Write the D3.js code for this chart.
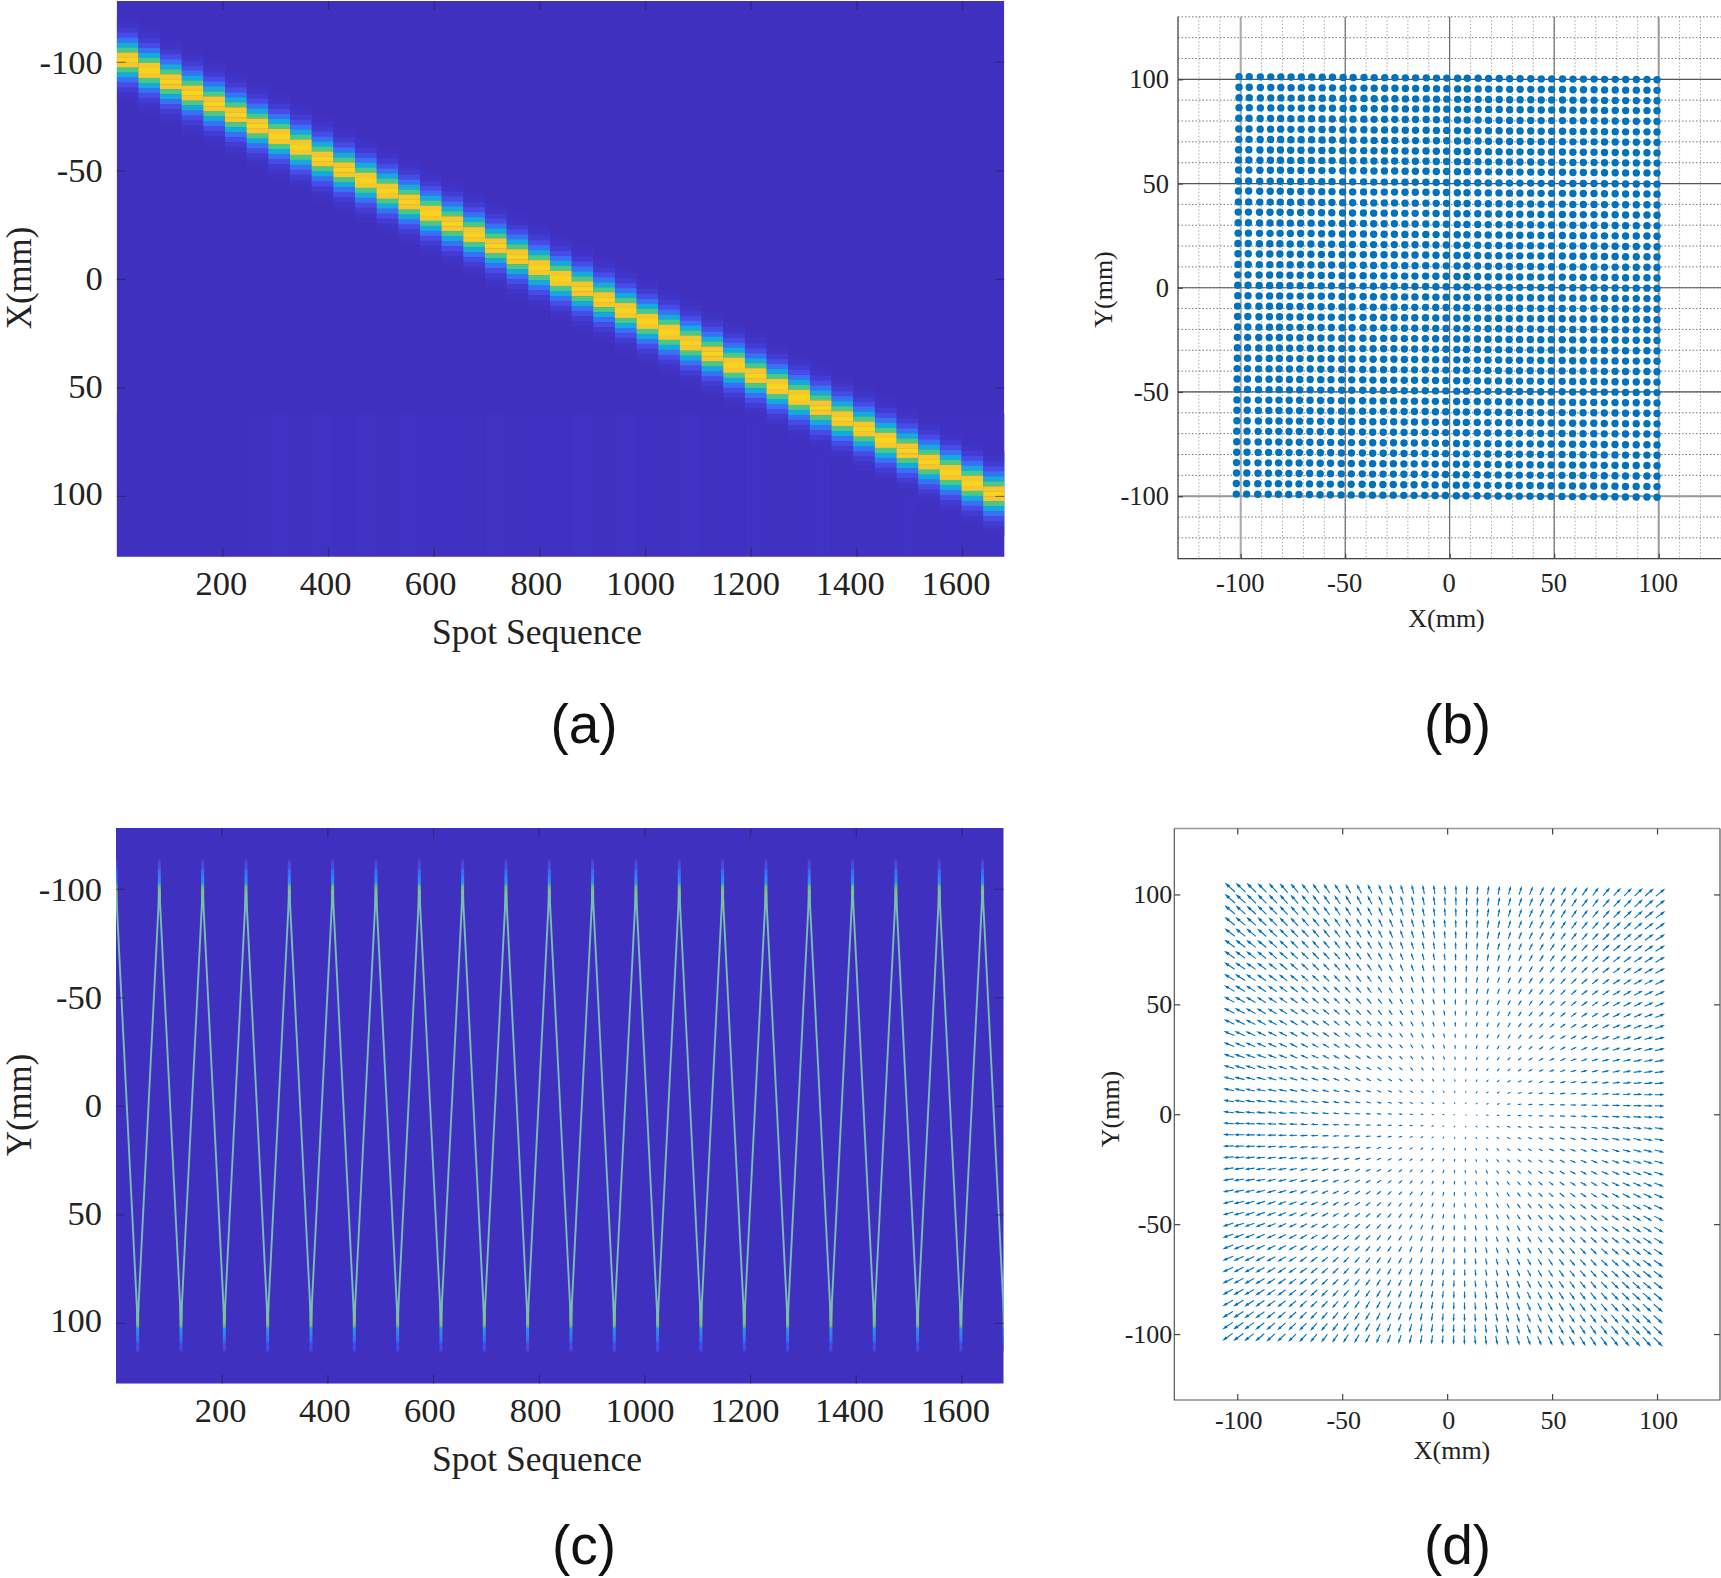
<!doctype html>
<html>
<head>
<meta charset="utf-8">
<title>Spot sequence maps and spot distortion</title>
<script src="https://d3js.org/d3.v7.min.js"></script>
<style>
	body { margin: 0; background: white; }
	svg { display: block; }
	text { font-family: "Liberation Serif", serif; fill: #222; }
	.panel-tag { font-family: "Liberation Sans", sans-serif; font-size: 55px; fill: #111; }
</style>
</head>
<body>
<div id="plot"></div>
<script>
// --- tick labels
const spotTicks = [200, 400, 600, 800, 1000, 1200, 1400, 1600];
const spotLabelShift = [-1.5, -3, -3.7, -3.5, -5, -5.6, -6.7, -6.5];
const mmTicks = [-100, -50, 0, 50, 100];
const mmLabelShift = [1, 0, -0.5, -1, -2.5];
const minorTicks = [-130, -120, -110, -100, -90, -80, -70, -60, -50, -40, -30, -20, -10, 0, 10, 20, 30, 40, 50, 60, 70, 80, 90, 100, 110, 120, 130];

// --- panel a: each block of 41 spots sits at one X position
const blockEdges = [0, 41, 82, 123, 164, 205, 246, 287, 328, 369, 410, 451, 492, 533, 574, 615, 656, 697, 738, 779, 820, 861, 902, 943, 984, 1025, 1066, 1107, 1148, 1189, 1230, 1271, 1312, 1353, 1394, 1435, 1476, 1517, 1558, 1599, 1640, 1681];
const ridgeX = [-100.8, -96, -90.8, -85.6, -80.6, -75.6, -70.4, -65.6, -60.6, -55.2, -50.2, -45.4, -40.4, -35.4, -30.2, -25.4, -20.4, -15.2, -10.2, -5.2, -0.2, 4.6, 9.6, 14.6, 19.6, 24.6, 29.6, 34.6, 39.8, 44.6, 49.6, 54.6, 59.4, 64.4, 69.2, 74.4, 79.2, 84.4, 89.2, 94.2, 99];
const bandOffset = [-18.4, -16.1, -13.8, -11.5, -9.2, -6.9, -4.6, -2.3, 0, 2.3, 4.6, 6.9, 9.2, 11.5, 13.8, 16.1, 18.4];
const bandLevel = [0.008, 0.018, 0.045, 0.1, 0.2, 0.35, 0.52, 0.78, 0.85, 0.78, 0.52, 0.35, 0.2, 0.1, 0.045, 0.018, 0.008];
// faint vertical streaks in the lower part of the map
const streakLevel = [0, 0, 0, 0, 0, 0, 0.003, 0.006, 0.002, 0.006, 0.004, 0.007, 0.003, 0.006, 0.004, 0.005, 0.003, 0.006, 0.003, 0.005, 0.004, 0.006, 0.003, 0.006, 0.005, 0.003, 0.006, 0.003, 0.005, 0.006, 0.003, 0.004, 0.006, 0.003, 0.005, 0.003, 0.006, 0.003, 0.005, 0.003, 0.004];

// --- panel c: the same spots seen along Y, a sweep per block
const turnSpot = blockEdges;
const turnY = [-100, 100, -100, 100, -100, 100, -100, 100, -100, 100, -100, 100, -100, 100, -100, 100, -100, 100, -100, 100, -100, 100, -100, 100, -100, 100, -100, 100, -100, 100, -100, 100, -100, 100, -100, 100, -100, 100, -100, 100, -100, 100];
const tipOffset = [-8, -4, 0, 2, 4, 6, 9, 13];
const tipLevel = [0.55, 0.62, 0.55, 0.3, 0.25, 0.2, 0.1];

// --- panel b: measured spot centres
const dotColX = [-100.8, -95.9, -90.6, -85.6, -80.8, -75.9, -71, -66, -61, -56.1, -51, -46.2, -41, -36.1, -31.1, -26.2, -21.2, -16.3, -11.2, -6.3, -1.4, 3.8, 8.4, 13.6, 18.6, 23.7, 28.7, 33.7, 38.8, 43.8, 48.8, 54, 59, 64, 69.1, 74.1, 79.2, 84.2, 89.3, 94.4, 99.2];
const dotRowY = [101.3, 96.2, 91.2, 86.4, 81.3, 76.2, 71.2, 66.2, 61.3, 56.5, 51.2, 46.4, 41.2, 36.3, 31.2, 26.2, 21.2, 16.3, 11.2, 6.2, 1.2, -3.8, -8.8, -13.8, -18.8, -23.8, -28.8, -33.8, -38.8, -43.8, -48.8, -53.8, -58.8, -63.8, -68.8, -73.9, -78.9, -83.9, -88.9, -93.9, -99];
const dotColSag = [0, 0, -0.1, -0.1, -0.1, -0.2, -0.2, -0.2, -0.3, -0.3, -0.4, -0.4, -0.4, -0.5, -0.5, -0.5, -0.6, -0.6, -0.6, -0.7, -0.7, -0.8, -0.8, -0.8, -0.9, -0.9, -1, -1, -1, -1.1, -1.1, -1.1, -1.2, -1.2, -1.2, -1.3, -1.3, -1.4, -1.4, -1.4, -1.5];
const dotRowDrift = [0, 0, 0, 0, -0.1, -0.1, -0.1, -0.2, -0.2, -0.2, -0.3, -0.3, -0.3, -0.4, -0.4, -0.4, -0.5, -0.5, -0.5, -0.6, -0.6, -0.6, -0.7, -0.7, -0.7, -0.8, -0.8, -0.8, -0.9, -0.9, -0.9, -1, -1, -1, -1.1, -1.1, -1.1, -1.2, -1.2, -1.3, -1.3];
const dotDriftShare = [1, 0.97, 0.95, 0.92, 0.9, 0.87, 0.85, 0.82, 0.8, 0.77, 0.75, 0.72, 0.7, 0.67, 0.65, 0.62, 0.6, 0.57, 0.55, 0.52, 0.5, 0.47, 0.45, 0.42, 0.4, 0.37, 0.35, 0.32, 0.3, 0.27, 0.25, 0.22, 0.2, 0.17, 0.15, 0.12, 0.1, 0.07, 0.05, 0.02, 0];

// --- panel d: displacement arrows
const arrowColX = [-101.6, -96.6, -91.6, -86.6, -81.5, -76.5, -71.5, -66.5, -61.5, -56.5, -51.5, -46.5, -41.4, -36.4, -31.4, -26.4, -21.4, -16.4, -11.4, -6.4, -1.4, 3.7, 8.7, 13.7, 18.7, 23.7, 28.7, 33.7, 38.7, 43.7, 48.7, 53.8, 58.8, 63.8, 68.8, 73.8, 78.8, 83.8, 88.8, 93.8, 98.9];
const arrowRowY = [100.4, 95.4, 90.4, 85.3, 80.3, 75.3, 70.3, 65.3, 60.2, 55.2, 50.2, 45.2, 40.2, 35.1, 30.1, 25.1, 20.1, 15.1, 10, 5, 0, -5, -10, -15.1, -20.1, -25.1, -30.1, -35.1, -40.2, -45.2, -50.2, -55.2, -60.2, -65.3, -70.3, -75.3, -80.3, -85.3, -90.4, -95.4, -100.4];
const arrowRowShiftX = [0.55, 0.52, 0.5, 0.47, 0.44, 0.41, 0.38, 0.36, 0.33, 0.3, 0.27, 0.25, 0.22, 0.19, 0.16, 0.14, 0.11, 0.08, 0.05, 0.03, 0, -0.03, -0.05, -0.08, -0.11, -0.14, -0.16, -0.19, -0.22, -0.25, -0.27, -0.3, -0.33, -0.36, -0.38, -0.41, -0.44, -0.47, -0.5, -0.52, -0.55];
const arrowColShiftY = [0.7, 0.65, 0.6, 0.56, 0.51, 0.46, 0.42, 0.37, 0.33, 0.28, 0.23, 0.19, 0.14, 0.09, 0.05, 0, -0.05, -0.09, -0.14, -0.18, -0.23, -0.28, -0.32, -0.37, -0.42, -0.46, -0.51, -0.55, -0.6, -0.65, -0.69, -0.74, -0.79, -0.83, -0.88, -0.92, -0.97, -1.02, -1.06, -1.11, -1.15];
const arrowU = [-4.3, -4.1, -3.9, -3.7, -3.5, -3.3, -3.1, -2.9, -2.7, -2.5, -2.3, -2.1, -1.9, -1.7, -1.5, -1.3, -1.1, -0.9, -0.7, -0.5, -0.3, -0.1, 0.1, 0.3, 0.5, 0.7, 0.9, 1.1, 1.3, 1.5, 1.7, 1.9, 2.1, 2.3, 2.4, 2.7, 2.9, 3.1, 3.3, 3.5, 3.8];
const arrowV = [3.3, 3.2, 3.05, 2.9, 2.75, 2.6, 2.45, 2.3, 2.15, 2, 1.85, 1.7, 1.55, 1.35, 1.2, 1, 0.85, 0.65, 0.45, 0.25, 0.05, -0.15, -0.35, -0.55, -0.7, -0.9, -1.05, -1.25, -1.4, -1.55, -1.7, -1.85, -2, -2.15, -2.3, -2.45, -2.6, -2.75, -2.9, -3.1, -3.3];
const arrowTilt = [0.4, 0.38, 0.36, 0.34, 0.32, 0.3, 0.28, 0.26, 0.24, 0.22, 0.2, 0.18, 0.16, 0.14, 0.12, 0.1, 0.08, 0.06, 0.04, 0.02, 0, -0.02, -0.04, -0.05, -0.07, -0.09, -0.11, -0.13, -0.15, -0.17, -0.18, -0.2, -0.22, -0.24, -0.26, -0.28, -0.29, -0.31, -0.33, -0.34, -0.35];

// parula, the low end moved to the violet blue of the figure
const parulaStops = [0, 0.12, 0.25, 0.375, 0.5, 0.625, 0.75, 0.85, 1];
const parulaColors = ["#4030c0", "#4750f0", "#2e87f7", "#12b1d6", "#37c897", "#abc739", "#f5c02e", "#f7d422", "#f9fb15"];
const parula = d3.scaleLinear().domain(parulaStops).range(parulaColors);

const svg = d3.select("#plot").append("svg")
	.attr("width", 1721)
	.attr("height", 1578);

const defs = svg.append("defs");
defs.append("filter").attr("id", "soft").attr("x", "-2%").attr("y", "-2%").attr("width", "104%").attr("height", "104%")
	.append("feGaussianBlur").attr("stdDeviation", "0.6 0.7");
defs.append("filter").attr("id", "softline").attr("filterUnits", "userSpaceOnUse")
	.attr("x", 0).attr("y", 800).attr("width", 1100).attr("height", 620)
	.append("feGaussianBlur").attr("stdDeviation", "0.45 1");

// tick styling shared by the four axes
function styleAxis(g, size, tickColor) {
	g.select(".domain").remove();
	g.selectAll(".tick line").attr("stroke", tickColor).attr("stroke-width", 1.2);
	g.selectAll(".tick text").style("font-size", size + "px").attr("fill", "#222");
}

function drawHeatAxes(x, y, box) {
	const noText = () => "";
	const tickColor = "rgba(30,30,50,0.5)";
	const bottom = svg.append("g").attr("transform", `translate(0,${box.bottom})`)
		.call(d3.axisBottom(x).tickValues(spotTicks).tickFormat(String).tickSize(-9).tickPadding(14));
	const left = svg.append("g").attr("transform", `translate(${box.left},0)`)
		.call(d3.axisLeft(y).tickValues(mmTicks).tickFormat(String).tickSize(-9).tickPadding(14));
	const top = svg.append("g").attr("transform", `translate(0,${box.top})`)
		.call(d3.axisTop(x).tickValues(spotTicks).tickFormat(noText).tickSize(-9));
	const right = svg.append("g").attr("transform", `translate(${box.right},0)`)
		.call(d3.axisRight(y).tickValues(mmTicks).tickFormat(noText).tickSize(-9));
	[bottom, left, top, right].forEach(g => styleAxis(g, 34.5, tickColor));
	bottom.selectAll(".tick text").attr("dx", (d, i) => spotLabelShift[i]);
	left.selectAll(".tick text").attr("y", (d, i) => mmLabelShift[i]);
}

function clip(id, box) {
	defs.append("clipPath").attr("id", id).append("rect")
		.attr("x", box.left).attr("y", box.top)
		.attr("width", box.right - box.left).attr("height", box.bottom - box.top);
}

function label(txt, x, y, size, rotate) {
	const t = svg.append("text").attr("text-anchor", "middle").style("font-size", size + "px").text(txt);
	if (rotate) t.attr("transform", `translate(${x},${y}) rotate(-90)`);
	else t.attr("x", x).attr("y", y);
}

function tag(txt, x, y) {
	svg.append("text").attr("class", "panel-tag").attr("text-anchor", "middle").attr("x", x).attr("y", y).text(txt);
}

// ---------- (a)
const boxA = { left: 116.7, right: 1004.3, top: 1, bottom: 556.7 };
const xA = d3.scaleLinear().domain([0, 1680]).range([boxA.left, boxA.right]);
const yA = d3.scaleLinear().domain([-128, 128]).range([boxA.top, boxA.bottom]);
clip("clipA", boxA);
const gA = svg.append("g").attr("clip-path", "url(#clipA)");
gA.append("rect").attr("x", boxA.left).attr("y", boxA.top)
	.attr("width", boxA.right - boxA.left).attr("height", boxA.bottom - boxA.top)
	.attr("fill", parula(0));
gA.selectAll(null)
	.data(streakLevel)
	.enter()
	.append("rect")
	.attr("x", (d, k) => xA(blockEdges[k]))
	.attr("width", (d, k) => xA(blockEdges[k + 1]) - xA(blockEdges[k]))
	.attr("y", yA(62))
	.attr("height", yA(128) - yA(62))
	.attr("fill", d => parula(d));
const heatA = gA.append("g").attr("filter", "url(#soft)");
ridgeX.forEach((r, k) => {
	heatA.selectAll(null)
		.data(bandOffset)
		.enter()
		.append("rect")
		.attr("x", xA(blockEdges[k]))
		.attr("width", xA(blockEdges[k + 1]) - xA(blockEdges[k]) + 0.3)
		.attr("y", d => yA(r + d - 1.15))
		.attr("height", yA(2.3) - yA(0) + 0.3)
		.attr("fill", (d, i) => parula(bandLevel[i]));
});
drawHeatAxes(xA, yA, boxA);
label("Spot Sequence", 537, 644, 35.5);
label("X(mm)", 31, 278, 34.8, true);
tag("(a)", 584, 743);

// ---------- (c)
const boxC = { left: 116, right: 1003.7, top: 828, bottom: 1383.7 };
const xC = d3.scaleLinear().domain([0, 1680]).range([boxC.left, boxC.right]);
const yC = d3.scaleLinear().domain([-128, 128]).range([boxC.top, boxC.bottom]);
clip("clipC", boxC);
const gC = svg.append("g").attr("clip-path", "url(#clipC)");
gC.append("rect").attr("x", boxC.left).attr("y", boxC.top)
	.attr("width", boxC.right - boxC.left).attr("height", boxC.bottom - boxC.top)
	.attr("fill", parula(0));
const heatC = gC.append("g").attr("filter", "url(#softline)");
// narrow glow past each turn of the sweep
turnSpot.forEach((s, k) => {
	const dir = turnY[k] < 0 ? -1 : 1;
	heatC.selectAll(null)
		.data(tipOffset.slice(0, -1))
		.enter()
		.append("rect")
		.attr("x", xC(s) - 1.5)
		.attr("width", 3)
		.attr("y", (d, i) => Math.min(yC(turnY[k] + dir * d), yC(turnY[k] + dir * tipOffset[i + 1])))
		.attr("height", (d, i) => Math.abs(yC(tipOffset[i + 1]) - yC(d)))
		.attr("fill", (d, i) => parula(tipLevel[i]));
});
const sweep = d3.line().x(d => xC(d[0])).y(d => yC(d[1])).curve(d3.curveLinear);
heatC.append("path")
	.datum(d3.zip(turnSpot, turnY))
	.attr("d", sweep)
	.attr("fill", "none")
	.attr("stroke", "#78bfae")
	.attr("stroke-width", 1.9)
	.attr("stroke-linejoin", "miter")
	.attr("stroke-miterlimit", 2);
drawHeatAxes(xC, yC, boxC);
label("Spot Sequence", 537, 1471, 35.5);
label("Y(mm)", 31, 1105, 34.8, true);
tag("(c)", 584, 1564);

// ---------- (b)
const boxB = { left: 1178, right: 1721.4, top: 16.8, bottom: 558.7 };
const xB = d3.scaleLinear().domain([-130, 130]).range([boxB.left, boxB.right]);
const yB = d3.scaleLinear().domain([130, -130]).range([boxB.top, boxB.bottom]);
const gridB = svg.append("g");
// minor grid
gridB.selectAll(null).data(minorTicks).enter().append("line")
	.attr("x1", d => xB(d)).attr("x2", d => xB(d)).attr("y1", boxB.top).attr("y2", boxB.bottom)
	.attr("stroke", "#aaa").attr("stroke-width", 1).attr("stroke-dasharray", "1.5 2");
gridB.selectAll(null).data(minorTicks).enter().append("line")
	.attr("y1", d => yB(d)).attr("y2", d => yB(d)).attr("x1", boxB.left).attr("x2", boxB.right)
	.attr("stroke", "#777").attr("stroke-width", 1).attr("stroke-dasharray", "1.5 2");
// major grid, the outer -100 lines read paler and thicker
gridB.selectAll(null).data(mmTicks).enter().append("line")
	.attr("x1", d => xB(d)).attr("x2", d => xB(d)).attr("y1", boxB.top).attr("y2", boxB.bottom)
	.attr("stroke", d => d === -100 ? "#aaa" : d === 100 ? "#999" : "#555")
	.attr("stroke-width", d => Math.abs(d) === 100 ? 2 : 1);
gridB.selectAll(null).data(mmTicks).enter().append("line")
	.attr("y1", d => yB(d)).attr("y2", d => yB(d)).attr("x1", boxB.left).attr("x2", boxB.right)
	.attr("stroke", d => d === -100 ? "#999" : "#555")
	.attr("stroke-width", d => d === -100 ? 2 : 1.2);
svg.append("path")
	.attr("d", `M${boxB.left},${boxB.top}V${boxB.bottom}H${boxB.right}`)
	.attr("fill", "none").attr("stroke", "#444").attr("stroke-width", 1.2);
const dots = svg.append("g").attr("fill", "#0072bd");
dotRowY.forEach((ry, j) => {
	dots.selectAll(null)
		.data(dotColX)
		.enter()
		.append("circle")
		.attr("cx", (d, i) => xB(d + dotRowDrift[j] * dotDriftShare[i]))
		.attr("cy", (d, i) => yB(ry + dotColSag[i]))
		.attr("r", 3.7);
});
svg.append("g").attr("transform", `translate(0,${boxB.bottom})`)
	.call(d3.axisBottom(xB).tickValues(mmTicks).tickFormat(String).tickSize(-5).tickPadding(14))
	.call(styleAxis, 26.5, "#444")
	.selectAll(".tick text").attr("dx", -1);
svg.append("g").attr("transform", `translate(${boxB.left},0)`)
	.call(d3.axisLeft(yB).tickValues(mmTicks).tickFormat(String).tickSize(-5).tickPadding(9))
	.call(styleAxis, 26.5, "#444");
label("X(mm)", 1446.5, 627, 26);
label("Y(mm)", 1112, 289.5, 26, true);
tag("(b)", 1457.5, 743);

// ---------- (d)
const boxD = { left: 1174.3, right: 1720, top: 828.5, bottom: 1400 };
const xD = d3.scaleLinear().domain([-130, 130]).range([boxD.left, boxD.right]);
const yD = d3.scaleLinear().domain([130, -130]).range([boxD.top, boxD.bottom]);
svg.append("path")
	.attr("d", `M${boxD.left},${boxD.top}H${boxD.right}`)
	.attr("stroke", "#999").attr("stroke-width", 1.6);
svg.append("path")
	.attr("d", `M${boxD.left},${boxD.top}V${boxD.bottom}H${boxD.right}V${boxD.top}`)
	.attr("fill", "none").attr("stroke", "#555").attr("stroke-width", 1.2);
const arrows = svg.append("g").attr("stroke", "#0072bd").attr("fill", "none").attr("stroke-width", 1.1);
arrowRowY.forEach((ry, j) => {
	arrows.selectAll(null)
		.data(arrowColX)
		.enter()
		.append("path")
		.attr("d", (d, i) => {
			const x0 = xD(d + arrowRowShiftX[j]);
			const y0 = yD(ry + arrowColShiftY[i]);
			const x1 = xD(d + arrowRowShiftX[j] + arrowU[i]);
			const y1 = yD(ry + arrowColShiftY[i] + arrowV[j] + arrowTilt[i]);
			// quiver barbs: a third of the length back from the tip
			const bx = x1 - (x1 - x0) * 0.33;
			const by = y1 - (y1 - y0) * 0.33;
			const nx = -(y1 - y0) * 0.1;
			const ny = (x1 - x0) * 0.1;
			return `M${x0},${y0}L${x1},${y1}M${bx + nx},${by + ny}L${x1},${y1}L${bx - nx},${by - ny}`;
		});
});
svg.append("g").attr("transform", `translate(0,${boxD.bottom})`)
	.call(d3.axisBottom(xD).tickValues(mmTicks).tickFormat(String).tickSize(-6).tickPadding(11))
	.call(styleAxis, 26, "#444")
	.selectAll(".tick text").attr("dx", 1);
svg.append("g").attr("transform", `translate(${boxD.left},0)`)
	.call(d3.axisLeft(yD).tickValues(mmTicks).tickFormat(String).tickSize(-6).tickPadding(2))
	.call(styleAxis, 26, "#444");
svg.append("g").attr("transform", `translate(0,${boxD.top})`)
	.call(d3.axisTop(xD).tickValues(mmTicks).tickFormat("").tickSize(-6))
	.call(styleAxis, 26, "#444");
svg.append("g").attr("transform", `translate(${boxD.right},0)`)
	.call(d3.axisRight(yD).tickValues(mmTicks).tickFormat("").tickSize(-6))
	.call(styleAxis, 26, "#444");
label("X(mm)", 1452, 1459, 26);
label("Y(mm)", 1119, 1109, 26, true);
tag("(d)", 1457.5, 1564);
</script>
</body>
</html>
